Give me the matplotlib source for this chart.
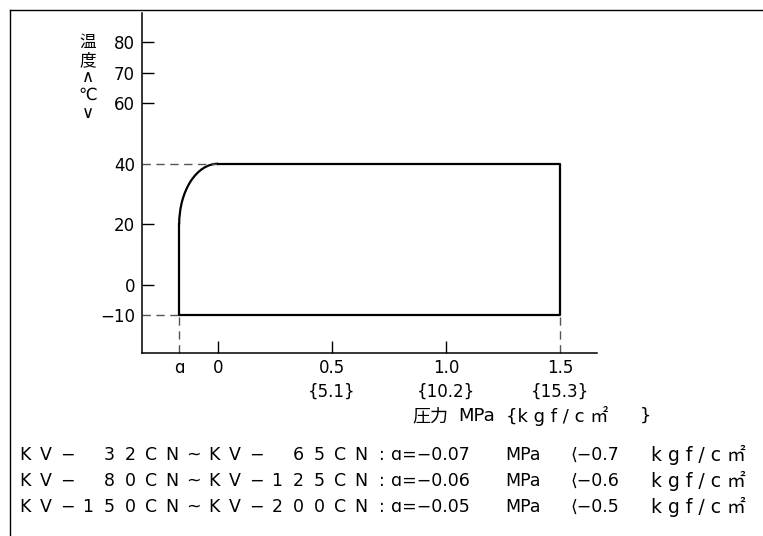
import matplotlib.pyplot as plt
from matplotlib.patches import Arc
from matplotlib.lines import Line2D

plt.rcParams['font.family'] = ['DejaVu Sans', 'Noto Sans CJK JP']

# 温度軸
y_ticks = [80, 70, 60, 40, 20, 0, -10]
y_no_tick = [40, -10]

# 圧力軸 (α は概略位置)
alpha_x = -0.17
x_ticks = [alpha_x, 0, 0.5, 1.0, 1.5]
x_labels = ['ɑ', '0', '0.5\n{5.1}', '1.0\n{10.2}', '1.5\n{15.3}']
x_no_tick = [alpha_x, 1.5]

# 使用範囲
p_max = 1.5
t_min, t_max = -10, 40
t_knee = 20

models = ['KV− 32CN~KV− 65CN', 'KV− 80CN~KV−125CN', 'KV−150CN~KV−200CN']
alpha_mpa = [-0.07, -0.06, -0.05]
alpha_kgf = [-0.7, -0.6, -0.5]

W, H = 763, 536
fig = plt.figure(figsize=(W / 100, H / 100), dpi=100)
ax = fig.add_axes([142 / W, 1 - 353 / H, (597 - 142) / W, (353 - 13) / H])
x0, x1 = -0.333, 1.662
y0, y1 = -22.4, 89.7
ax.set_xlim(x0, x1)
ax.set_ylim(y0, y1)

for s in ['top', 'right']:
    ax.spines[s].set_visible(False)
for s in ['left', 'bottom']:
    ax.spines[s].set_linewidth(1.1)

ax.set_yticks(y_ticks)
ax.set_yticklabels([str(v).replace('-', '−') for v in y_ticks])
ax.set_xticks(x_ticks)
ax.set_xticklabels(x_labels)
ax.tick_params(direction='in', length=8.6, width=1, colors='black', labelsize=12)
ax.tick_params(axis='y', pad=5)
ax.tick_params(axis='x', pad=4)
for lbl in ax.get_xticklabels():
    lbl.set_linespacing(1.45)
for tick, v in zip(ax.yaxis.get_major_ticks(), y_ticks):
    if v in y_no_tick:
        tick.tick1line.set_visible(False)
for tick, v in zip(ax.xaxis.get_major_ticks(), x_ticks):
    if v in x_no_tick:
        tick.tick1line.set_visible(False)

# 破線
dash = dict(color='#555555', lw=1, dashes=(6, 4), clip_on=False)
ax.plot([x0, 0], [t_max, t_max], **dash)
ax.plot([x0, alpha_x], [t_min, t_min], **dash)
ax.plot([alpha_x, alpha_x], [y0, t_min], **dash)
ax.plot([p_max, p_max], [y0, t_min], **dash)

# 使用範囲の外形
ax.plot([alpha_x, alpha_x, p_max, p_max, 0],
        [t_knee, t_min, t_min, t_max, t_max], color='black', lw=1.6)
ax.add_patch(Arc((0, t_knee), 2 * abs(alpha_x), 2 * (t_max - t_knee),
                 theta1=90, theta2=180, color='black', lw=1.6))

# 軸ラベル
fig.text(88 / W, 1 - 33 / H, '温\n度\n∧\n℃\n∨', ha='center', va='top',
         fontsize=12, linespacing=0.98)
xlab_y = 1 - 416 / H
fig.text(412 / W, xlab_y, '圧力', ha='left', va='center', fontsize=13)
fig.text(458 / W, xlab_y, 'MPa', ha='left', va='center', fontsize=13)
fig.text(506 / W, xlab_y, '{k g f / c ㎡', ha='left', va='center', fontsize=13)
fig.text(640 / W, xlab_y, '}', ha='left', va='center', fontsize=13)

# 型式ごとの α
pitch = 21
for i, m in enumerate(models):
    y = 1 - (455 + 26 * i) / H
    for j, ch in enumerate(m + ':'):
        if ch != ' ':
            fig.text((25 + j * pitch) / W, y, ch, ha='center', va='center', fontsize=12.5)
    a = f'{alpha_mpa[i]:.2f}'.replace('-', '−')
    k = f'{alpha_kgf[i]:.1f}'.replace('-', '−')
    fig.text(391 / W, y, f'ɑ={a}', ha='left', va='center', fontsize=12.5)
    fig.text(505 / W, y, 'MPa', ha='left', va='center', fontsize=12.5)
    fig.text(570 / W, y, f'⟨{k}', ha='left', va='center', fontsize=12.5)
    fig.text(651 / W, y, 'k g f / c ㎡', ha='left', va='center', fontsize=13.5)

# 枠
fig.add_artist(Line2D([10 / W, 10 / W], [0, 1 - 10 / H], color='black', lw=1))
fig.add_artist(Line2D([10 / W, 1], [1 - 10 / H, 1 - 10 / H], color='black', lw=1))

fig.savefig('out.png', dpi=100)
